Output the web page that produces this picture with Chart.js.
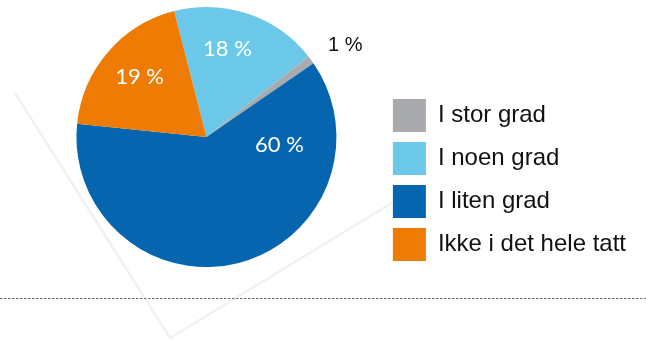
<!DOCTYPE html>
<html><head><meta charset="utf-8">
<script src="https://cdn.jsdelivr.net/npm/chart.js@4"></script>
<style>html,body{margin:0;padding:0;background:#fff;overflow:hidden}</style>
</head><body>
<canvas id="c" width="646" height="341"></canvas>
<script>
// Data (clockwise order as drawn in the pie)
const categories = ['I noen grad', 'I stor grad', 'I liten grad', 'Ikke i det hele tatt'];
const values = [18, 1, 60, 19];
const valueLabels = ['18 %', '1 %', '60 %', '19 %'];
const legendOrder = ['I stor grad', 'I noen grad', 'I liten grad', 'Ikke i det hele tatt'];
const colors = ['#6CC8E8', '#A9AAAE', '#0566AF', '#EE7B03'];

// Label placement: fraction along the arc angle and fraction of radius
const labelPlace = [
  {t: 0.42, r: 0.70, color: '#ffffff', font: '22px Lato, "Open Sans", sans-serif'},
  {t: 1.30, r: 1.28, color: '#111111', font: '20px "Liberation Sans", Arial, sans-serif'},
  {t: 0.186, r: 0.565, color: '#ffffff', font: '22px Lato, "Open Sans", sans-serif'},
  {t: 0.516, r: 0.69, color: '#ffffff', font: '22px Lato, "Open Sans", sans-serif'}
];

const decoPlugin = {
  id: 'deco',
  beforeDraw(chart) {
    const ctx = chart.ctx;
    ctx.save();
    ctx.strokeStyle = '#f1f1f1';
    ctx.lineWidth = 2.5;
    ctx.beginPath();
    ctx.moveTo(15, 93);
    ctx.lineTo(170, 338);
    ctx.lineTo(395, 201);
    ctx.stroke();
    ctx.restore();
  },
  afterDraw(chart) {
    const ctx = chart.ctx;
    ctx.save();
    ctx.strokeStyle = '#707070';
    ctx.lineWidth = 1;
    ctx.setLineDash([2.5, 1.5]);
    ctx.beginPath();
    ctx.moveTo(0, 298.5);
    ctx.lineTo(646, 298.5);
    ctx.stroke();
    ctx.restore();
  }
};

const labelPlugin = {
  id: 'pieLabels',
  afterDatasetsDraw(chart) {
    const ctx = chart.ctx;
    const meta = chart.getDatasetMeta(0);
    ctx.save();
    ctx.textAlign = 'center';
    ctx.textBaseline = 'middle';
    meta.data.forEach((arc, i) => {
      const p = arc.getProps(['x', 'y', 'startAngle', 'endAngle', 'outerRadius'], true);
      const pl = labelPlace[i];
      const a = p.startAngle + pl.t * (p.endAngle - p.startAngle);
      const R = p.outerRadius * pl.r;
      ctx.fillStyle = pl.color;
      ctx.font = pl.font;
      ctx.fillText(valueLabels[i], p.x + R * Math.cos(a), p.y + R * Math.sin(a));
    });
    ctx.restore();
  }
};

new Chart(document.getElementById('c'), {
  type: 'pie',
  data: {
    labels: categories,
    datasets: [{
      data: values,
      backgroundColor: colors,
      borderWidth: 0
    }]
  },
  options: {
    responsive: false,
    animation: false,
    rotation: -14.4,
    radius: 130,
    layout: {padding: {left: 30, right: 10, top: 3, bottom: 70}},
    plugins: {
      legend: {
        position: 'right',
        align: 'end',
        labels: {
          boxWidth: 33,
          boxHeight: 33,
          padding: 10,
          color: '#111111',
          font: {family: '"Liberation Sans", Arial, sans-serif', size: 24},
          sort: (a, b) => legendOrder.indexOf(a.text) - legendOrder.indexOf(b.text)
        }
      },
      tooltip: {enabled: false}
    }
  },
  plugins: [decoPlugin, labelPlugin]
});
</script>
</body></html>
